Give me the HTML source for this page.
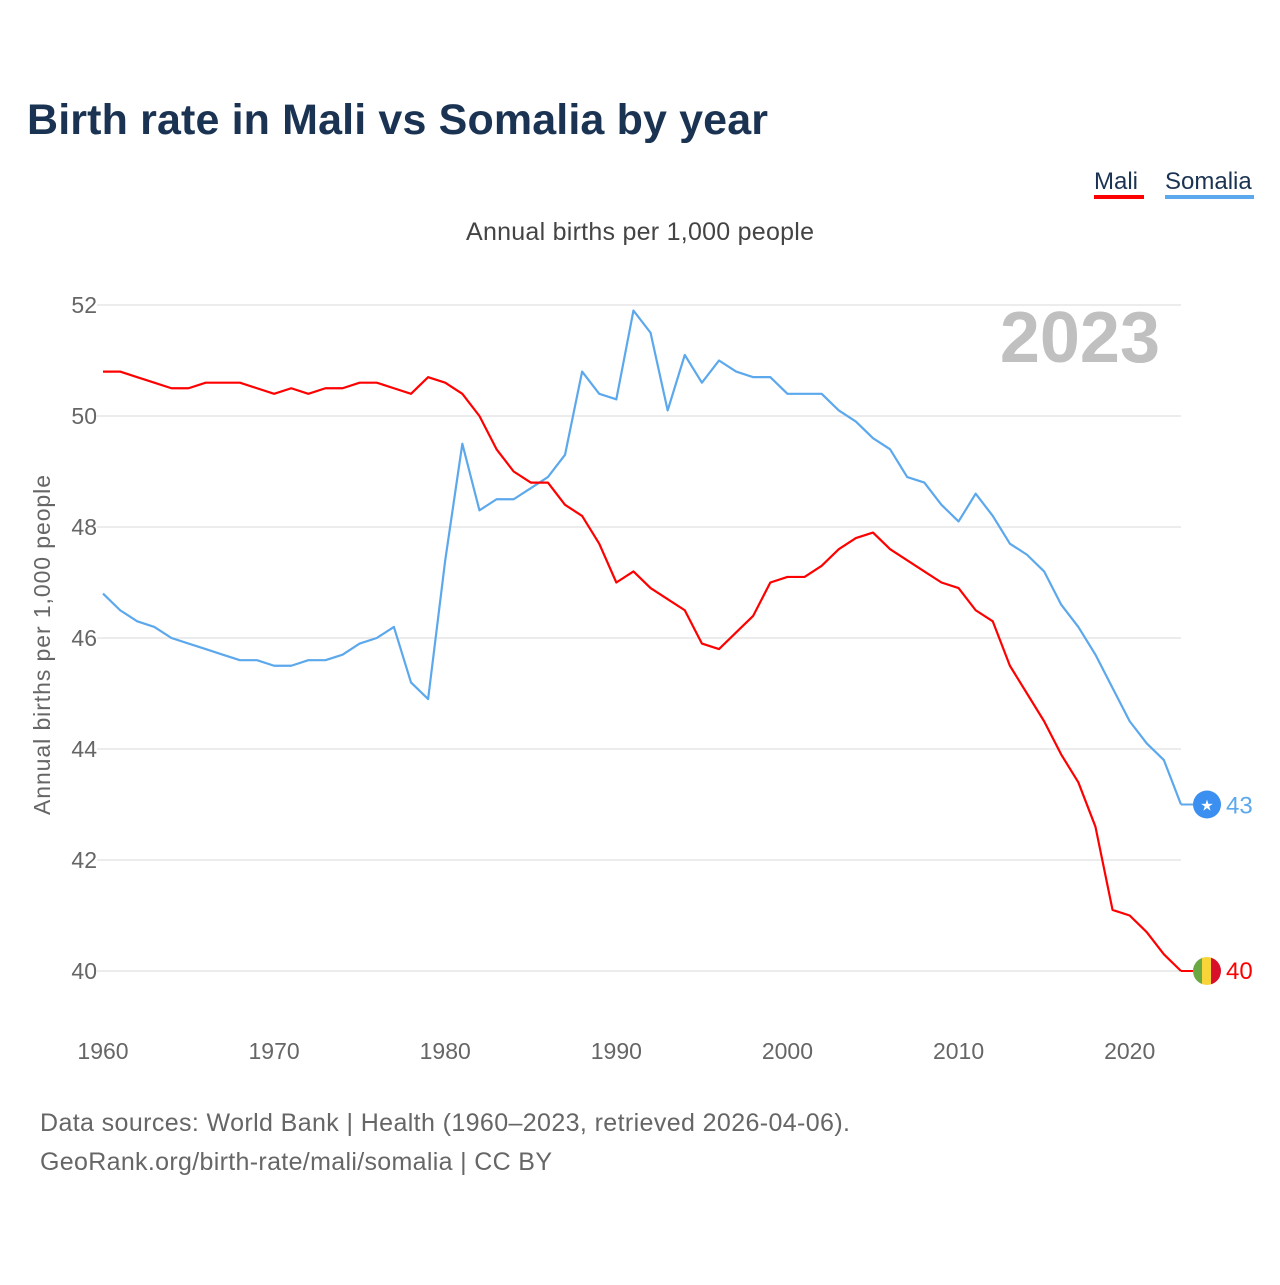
<!DOCTYPE html>
<html><head><meta charset="utf-8"><style>
body{margin:0;background:#fff;font-family:"Liberation Sans",sans-serif;}
svg text{font-family:"Liberation Sans",sans-serif;}
</style></head><body>
<svg id="chart" width="1280" height="1280" viewBox="0 0 1280 1280" xmlns="http://www.w3.org/2000/svg">
<rect width="1280" height="1280" fill="#fff"/>
<text x="27" y="134" font-size="43" font-weight="bold" fill="#1b3352" textLength="741">Birth rate in Mali vs Somalia by year</text>
<g>
<text x="1094" y="189" font-size="24" fill="#1b3352">Mali</text>
<rect x="1094" y="195" width="50" height="4" fill="#ff0000"/>
<text x="1165" y="189" font-size="24" fill="#1b3352">Somalia</text>
<rect x="1165" y="195" width="89" height="4" fill="#5ca8ec"/>
</g>
<text x="640" y="240" font-size="25" fill="#444" text-anchor="middle" textLength="348">Annual births per 1,000 people</text>
<text x="1160" y="362" font-size="72" font-weight="bold" fill="#c0c0c0" text-anchor="end">2023</text>
<text transform="translate(50,645) rotate(-90)" font-size="23" fill="#666" text-anchor="middle" textLength="340">Annual births per 1,000 people</text>
<g id="grid"></g><g id="yticks"></g><g id="xticks"></g><g id="lines"></g><g id="ends"></g>
<text x="40" y="1131" font-size="25" fill="#666" textLength="810">Data sources: World Bank | Health (1960–2023, retrieved 2026-04-06).</text>
<text x="40" y="1170" font-size="25" fill="#666" textLength="512">GeoRank.org/birth-rate/mali/somalia | CC BY</text>
</svg>
<script>
const years=[];for(let y=1960;y<=2023;y++)years.push(y);
const mali=[50.8,50.8,50.7,50.6,50.5,50.5,50.6,50.6,50.6,50.5,50.4,50.5,50.4,50.5,50.5,50.6,50.6,50.5,50.4,50.7,50.6,50.4,50.0,49.4,49.0,48.8,48.8,48.4,48.2,47.7,47.0,47.2,46.9,46.7,46.5,45.9,45.8,46.1,46.4,47.0,47.1,47.1,47.3,47.6,47.8,47.9,47.6,47.4,47.2,47.0,46.9,46.5,46.3,45.5,45.0,44.5,43.9,43.4,42.6,41.1,41.0,40.7,40.3,40.0];
const somalia=[46.8,46.5,46.3,46.2,46.0,45.9,45.8,45.7,45.6,45.6,45.5,45.5,45.6,45.6,45.7,45.9,46.0,46.2,45.2,44.9,47.4,49.5,48.3,48.5,48.5,48.7,48.9,49.3,50.8,50.4,50.3,51.9,51.5,50.1,51.1,50.6,51.0,50.8,50.7,50.7,50.4,50.4,50.4,50.1,49.9,49.6,49.4,48.9,48.8,48.4,48.1,48.6,48.2,47.7,47.5,47.2,46.6,46.2,45.7,45.1,44.5,44.1,43.8,43.0];
const yTicks=[40,42,44,46,48,50,52];
const xTicks=[1960,1970,1980,1990,2000,2010,2020];
const X=y=>103+(y-1960)*(1181-103)/63;
const Y=v=>971-(v-40)*(971-305)/12;
const NS="http://www.w3.org/2000/svg";
function mk(t,a,p){const e=document.createElementNS(NS,t);for(const k in a)e.setAttribute(k,a[k]);p.appendChild(e);return e;}
const grid=document.getElementById('grid'),yt=document.getElementById('yticks'),xt=document.getElementById('xticks');
yTicks.forEach(v=>{
 const l=mk('line',{x1:97,x2:1181,y1:Y(v),y2:Y(v),stroke:'#e6e6e6','stroke-width':1.5},grid);
 
 
 const t=mk('text',{x:97,y:Y(v)+8,'font-size':23,fill:'#666','text-anchor':'end'},yt);t.textContent=v;
 
 
});
xTicks.forEach(v=>{
 const t=mk('text',{x:X(v),y:1059,'font-size':23,fill:'#666','text-anchor':'middle'},xt);t.textContent=v;
 
 
});
const lines=document.getElementById('lines');
function line(d,c,n){
 const p=mk('polyline',{points:d.map((v,i)=>X(years[i])+','+Y(v)).join(' '),fill:'none',stroke:c,'stroke-width':2.2,'stroke-linejoin':'round'},lines);
 
 
}
line(somalia,'#5ca8ec','somalia-line');
line(mali,'#ff0000','mali-line');
const ends=document.getElementById('ends');
const sv=somalia[somalia.length-1],mv=mali[mali.length-1];
const ex=X(2023);
mk('line',{x1:ex,x2:ex+12,y1:Y(sv),y2:Y(sv),stroke:'#5ca8ec','stroke-width':2},ends);
const sc=mk('circle',{cx:ex+26,cy:Y(sv),r:14,fill:'#3b8ff0'},ends);


const st=mk('text',{x:ex+26,y:Y(sv)+6,'font-size':15,fill:'#fff','text-anchor':'middle'},ends);st.textContent='★';
const sl=mk('text',{x:ex+45,y:Y(sv)+9,'font-size':24,fill:'#5ca8ec'},ends);sl.textContent=Math.round(sv);


mk('line',{x1:ex,x2:ex+12,y1:Y(mv),y2:Y(mv),stroke:'#ff0000','stroke-width':2},ends);
const cp=mk('clipPath',{id:'mc'},ends);mk('circle',{cx:ex+26,cy:Y(mv),r:14},cp);
const mg=mk('g',{'clip-path':'url(#mc)'},ends);


mk('rect',{x:ex+12,y:Y(mv)-14,width:10,height:28,fill:'#6aa842'},mg);
mk('rect',{x:ex+21,y:Y(mv)-14,width:10,height:28,fill:'#f8d438'},mg);
mk('rect',{x:ex+30,y:Y(mv)-14,width:10,height:28,fill:'#d8102a'},mg);
const ml=mk('text',{x:ex+45,y:Y(mv)+8,'font-size':24,fill:'#ff0000'},ends);ml.textContent=Math.round(mv);


</script>
</body></html>
